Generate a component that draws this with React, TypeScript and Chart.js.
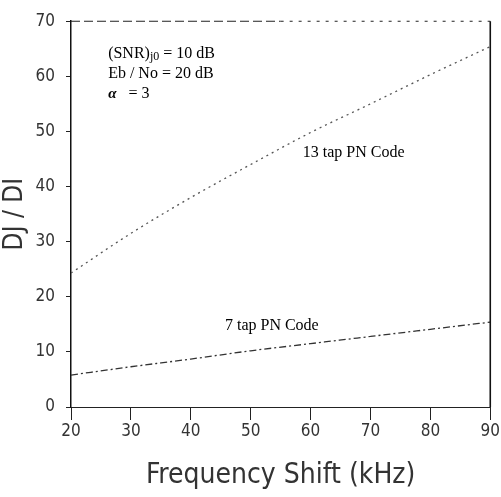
import React, { useEffect, useRef } from "react";
import { Chart, registerables } from "chart.js";

Chart.register(...registerables);

const freqShift = [20, 30, 40, 50, 60, 70, 80, 90];
const tap13 = [24.3, 31.5, 38.0, 44.0, 49.8, 55.0, 60.3, 65.4];
const tap7 = [5.8, 7.3, 8.7, 10.2, 11.5, 12.8, 14.1, 15.4];
const xTitle = "Frequency Shift (kHz)";
const yTitle = "DJ / DI";
const label13 = "13 tap PN Code";
const label7 = "7 tap PN Code";
// annotation anchors in data units [kHz, value]
const label13At = [58.7, 45.4];
const label7At = [45.7, 13.9];
const paramsAt = [26.2, 63.4];

const SERIF = "'Liberation Serif', 'Times New Roman', serif";
const COND = "'DejaVu Sans Condensed', 'DejaVu Sans', sans-serif";

const framePlugin = {
  id: "frameAndNotes",
  afterDraw(chart: any) {
    const { ctx, chartArea: a, scales } = chart;
    const xs = scales.x;
    const ys = scales.y;
    ctx.save();
    // top dashed border
    ctx.strokeStyle = "#222";
    ctx.lineWidth = 1.1;
    ctx.setLineDash([9, 4]);
    ctx.beginPath();
    ctx.moveTo(a.left, a.top);
    ctx.lineTo((a.left + a.right) / 2, a.top);
    ctx.stroke();
    ctx.setLineDash([3, 6]);
    ctx.beginPath();
    ctx.moveTo((a.left + a.right) / 2, a.top);
    ctx.lineTo(a.right, a.top);
    ctx.stroke();
    // right solid border
    ctx.setLineDash([]);
    ctx.lineWidth = 1.6;
    ctx.strokeStyle = "#111";
    ctx.beginPath();
    ctx.moveTo(a.right, a.top);
    ctx.lineTo(a.right, a.bottom);
    ctx.stroke();

    // annotations
    ctx.fillStyle = "#000";
    ctx.textBaseline = "alphabetic";
    ctx.textAlign = "left";
    ctx.font = `16px ${SERIF}`;
    ctx.fillText(label13, xs.getPixelForValue(label13At[0]), ys.getPixelForValue(label13At[1]));
    ctx.fillText(label7, xs.getPixelForValue(label7At[0]), ys.getPixelForValue(label7At[1]));

    const px = xs.getPixelForValue(paramsAt[0]);
    const py = ys.getPixelForValue(paramsAt[1]);
    ctx.font = `16px ${SERIF}`;
    let w = ctx.measureText("(SNR)").width;
    ctx.fillText("(SNR)", px, py);
    ctx.font = `12px ${SERIF}`;
    ctx.fillText("j0", px + w, py + 2);
    const w2 = ctx.measureText("j0").width;
    ctx.font = `16px ${SERIF}`;
    ctx.fillText(" = 10 dB", px + w + w2, py);
    ctx.fillText("Eb / No = 20 dB", px, py + 20);
    ctx.font = `bold italic 15px ${SERIF}`;
    ctx.fillText("α", px, py + 40);
    const wa = ctx.measureText("α").width;
    ctx.font = `16px ${SERIF}`;
    ctx.fillText("   = 3", px + wa, py + 40);
    ctx.restore();
  },
};

export default function App() {
  const ref = useRef<HTMLCanvasElement>(null);
  useEffect(() => {
    document.body.style.margin = "0";
    if (!ref.current) return;
    const chart = new Chart(ref.current, {
      type: "line",
      data: {
        labels: freqShift,
        datasets: [
          {
            label: label13,
            data: freqShift.map((x, i) => ({ x, y: tap13[i] })),
            borderColor: "#555",
            borderWidth: 1.3,
            borderDash: [2, 4],
            pointRadius: 0,
            cubicInterpolationMode: "monotone",
          },
          {
            label: label7,
            data: freqShift.map((x, i) => ({ x, y: tap7[i] })),
            borderColor: "#333",
            borderWidth: 1.3,
            borderDash: [7, 3, 2, 3],
            pointRadius: 0,
            cubicInterpolationMode: "monotone",
          },
        ],
      },
      options: {
        responsive: false,
        animation: false,
        layout: { padding: { top: 19, right: 10, left: 0, bottom: 0 } },
        plugins: { legend: { display: false }, tooltip: { enabled: false } },
        scales: {
          x: {
            type: "linear",
            min: 20,
            max: 90,
            afterFit: (s: any) => {
              s.height = 90;
            },
            ticks: {
              stepSize: 10,
              color: "#333",
              font: { family: COND, size: 17 },
              padding: 1,
            },
            grid: { drawOnChartArea: false, drawTicks: true, tickLength: 13, color: "#222", lineWidth: 1 },
            border: { display: true, color: "#222", width: 1 },
            title: {
              display: true,
              text: xTitle,
              color: "#333",
              font: { family: COND, size: 28 },
              padding: { top: 0, bottom: 4 },
            },
          },
          y: {
            type: "linear",
            min: 0,
            max: 70,
            afterFit: (s: any) => {
              s.width = 71;
            },
            ticks: {
              stepSize: 10,
              color: "#333",
              font: { family: COND, size: 17 },
              padding: 11,
            },
            grid: { drawOnChartArea: false, drawTicks: true, tickLength: 5, color: "#222", lineWidth: 1 },
            border: { display: true, color: "#111", width: 1.5 },
            title: {
              display: true,
              text: yTitle,
              color: "#333",
              font: { family: COND, size: 26 },
              padding: 0,
            },
          },
        },
      },
      plugins: [framePlugin],
    });
    return () => chart.destroy();
  }, []);
  return (
    <div style={{ width: 501, height: 497 }}>
      <canvas ref={ref} width={501} height={497} />
    </div>
  );
}
